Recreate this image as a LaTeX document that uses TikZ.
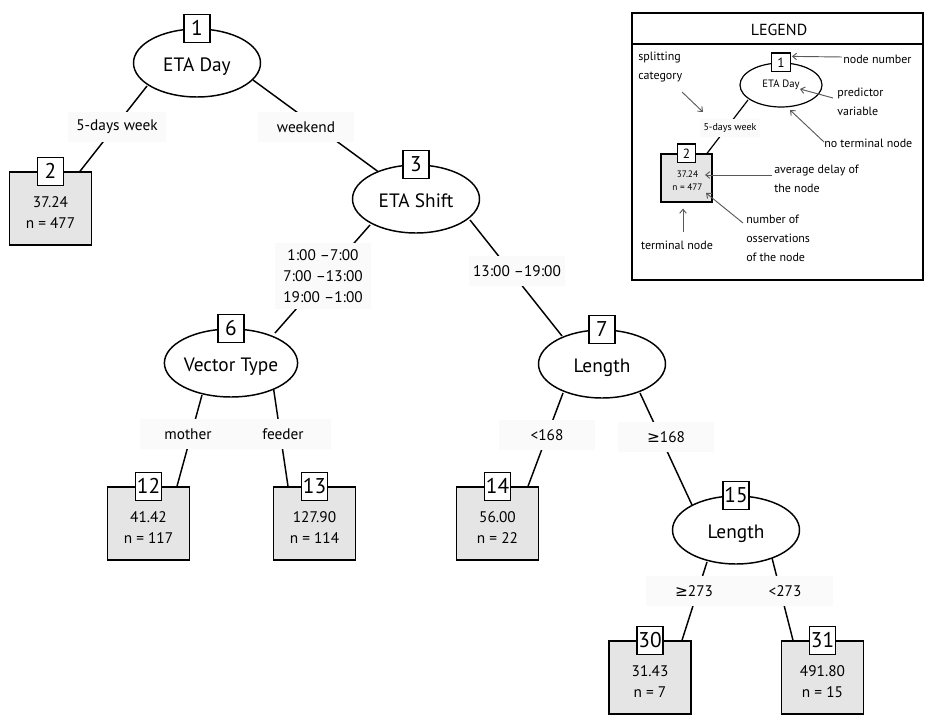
\documentclass[tikz,border=0pt]{standalone}
\usepackage{fontspec}
\setmainfont{PT Sans}
\newfontfamily\symf{DejaVu Sans}
\usetikzlibrary{shapes.geometric,calc,arrows.meta,backgrounds}
\newcommand{\gesym}{{\symf\char"2265}}
\tikzset{
  every node/.style={inner sep=0pt},
  split/.style={ellipse, draw, line width=1.1pt, fill=white, minimum width=95.25pt, minimum height=51pt, text height=13pt, text depth=0pt, font=\fontsize{14.5}{16}\selectfont},
  nbox/.style={rectangle, draw, line width=1.1pt, fill=white, minimum width=19.5pt, minimum height=21pt, font=\fontsize{16}{18}\selectfont},
  term/.style={rectangle, draw, line width=1.1pt, fill=black!10, minimum width=61.5pt, minimum height=54.75pt},
  ttext/.style={align=center, font=\fontsize{11.5}{15.75}\selectfont},
  elab/.style={fill=black!2, minimum width=72pt, minimum height=22pt, align=center, font=\fontsize{11.5}{15.75}\selectfont},
  edge/.style={line width=1.1pt},
  lsplit/.style={ellipse, draw, line width=0.9pt, fill=white, minimum width=61.5pt, minimum height=33pt, font=\fontsize{8}{9}\selectfont},
  lnbox/.style={rectangle, draw, line width=0.9pt, fill=white, minimum width=14pt, minimum height=14pt, font=\fontsize{10}{11}\selectfont},
  lterm/.style={rectangle, draw, line width=0.9pt, fill=black!10, minimum width=38.25pt, minimum height=36pt},
  ltext/.style={align=left, font=\fontsize{9}{14}\selectfont},
  ledge/.style={line width=0.9pt},
  larrow/.style={draw=black!65, line width=0.7pt, -{Straight Barb[length=3pt,width=5pt]}},
}
\begin{document}
\begin{tikzpicture}[x=0.75pt, y=-0.75pt]
\useasboundingbox (0,0) rectangle (940,720);

% ---- tree nodes ----
\node[split] (e1) at (197,63) {ETA Day};
\node[nbox] (n1) at (e1.north) {1};
\node[split] (e3) at (416,199) {ETA Shift};
\node[nbox] (n3) at (e3.north) {3};
\node[split] (e6) at (231,363) {Vector Type};
\node[nbox] (n6) at (e6.north) {6};
\node[split] (e7) at (602,364) {Length};
\node[nbox] (n7) at (e7.north) {7};
\node[split] (e15) at (736,530) {Length};
\node[nbox] (n15) at (e15.north) {15};

\node[term] (b2) at (50.5,208.5) {};
\node[nbox] (n2) at (b2.north) {2};
\node[ttext] (t2) at ($(b2.center)+(0,4)$) {37.24\\n = 477};
\node[term] (b12) at (148.5,523.5) {};
\node[nbox] (n12) at (b12.north) {12};
\node[ttext] (t12) at ($(b12.center)+(0,4)$) {41.42\\n = 117};
\node[term] (b13) at (314.5,523.5) {};
\node[nbox] (n13) at (b13.north) {13};
\node[ttext] (t13) at ($(b13.center)+(0,4)$) {127.90\\n = 114};
\node[term] (b14) at (497.5,523.5) {};
\node[nbox] (n14) at (b14.north) {14};
\node[ttext] (t14) at ($(b14.center)+(0,4)$) {56.00\\n = 22};
\node[term] (b30) at (650,677.5) {};
\node[nbox] (n30) at (b30.north) {30};
\node[ttext] (t30) at ($(b30.center)+(0,4)$) {31.43\\n = 7};
\node[term] (b31) at (822.5,677.5) {};
\node[nbox] (n31) at (b31.north) {31};
\node[ttext] (t31) at ($(b31.center)+(0,4)$) {491.80\\n = 15};

% ---- edge labels ----
\node[elab, minimum width=74pt] (l1a) at (117,127) {5-days week};
\node[elab] (l1b) at (306,127) {weekend};
\node[elab, minimum height=49.5pt] (l3a) at (323,276) {1:00 –7:00\\7:00 –13:00\\19:00 –1:00};
\node[elab] (l3b) at (517,271) {13:00 –19:00};
\node[elab] (l6a) at (188,434) {mother};
\node[elab] (l6b) at (283,434) {feeder};
\node[elab] (l7a) at (547,435) {<168};
\node[elab] (l7b) at (666,437) {\gesym168};
\node[elab] (l15a) at (694,591) {\gesym273};
\node[elab] (l15b) at (785,591) {<273};

% ---- legend ----
\node[draw, line width=1.2pt, minimum width=218.25pt, minimum height=200.25pt] (legend) at (777.5,146.5) {};
\node[font=\fontsize{12}{14}\selectfont] (legtitle) at (779,30) {LEGEND};
\node[lsplit] (le) at (781,85) {ETA Day};
\node[lnbox] (ln1) at (le.north) {1};
\node[elab, minimum width=45pt, minimum height=13pt, font=\fontsize{7.5}{9}\selectfont] (ll) at (730,128) {5-days week};
\node[lterm] (lb) at (686.5,178) {};
\node[lnbox] (ln2) at (lb.north) {2};
\node[align=center, font=\fontsize{7}{9.75}\selectfont] (lt2) at ($(lb.center)+(1,3)$) {37.24\\n = 477};

\node[ltext, anchor=north west] (tsplit) at (638,52) {splitting\\category};
\node[ltext, anchor=west] (tnn) at (843,59) {node number};
\node[ltext, anchor=north west] (tpred) at (837,88) {predictor\\variable};
\node[ltext, anchor=west] (tnoterm) at (824,143) {no terminal node};
\node[ltext, anchor=north west] (tavg) at (774,165) {average delay of\\the node};
\node[ltext, anchor=north west] (tnum) at (746,215) {number of\\osservations\\of the node};
\node[ltext] (tterm) at (677,245) {terminal node};

\draw[larrow] ($(tnn.west)+(-1,-2)$) -- ($(ln1.east)+(1,-6)$);
\draw[larrow] ($(tpred.north west)+(-4,10)$) -- ($(le)+(19,4)$);
\draw[larrow] ($(tnoterm.west)+(0,-1)$) -- ($(le)+(9,25)$);
\draw[larrow] ($(tsplit.north west)+(44,40)$) -- ($(ll)+(-27,-16)$);
\draw[larrow] ($(tavg.north west)+(-2,10)$) -- ($(lb)+(18.5,-3)$);
\draw[larrow] ($(tnum.north west)+(-3,8)$) -- ($(lb)+(19.5,15)$);
\draw[larrow] ($(tterm)+(6,-13)$) -- ($(lb.south)+(-3.5,6)$);

\draw[line width=1.2pt] ($(legend.north west)+(0,32)$) -- ($(legend.north east)+(0,32)$);

% ---- connectors ----
\begin{scope}[on background layer]
\draw[edge] ($(e1)+(-50,23)$) -- ($(b2.north)+(29.5,0)$);
\draw[edge] ($(e1)+(56,17)$) -- ($(e3)+(-36,-26)$);
\draw[edge] ($(e3)+(-46,26)$) -- ($(e6)+(44,-30)$);
\draw[edge] ($(e3)+(54,21)$) -- ($(e7)+(-40,-28)$);
\draw[edge] ($(e6)+(-29,32)$) -- ($(b12.north)+(28.5,0)$);
\draw[edge] ($(e6)+(42,22)$) -- ($(b13.north)+(-26.5,0)$);
\draw[edge] ($(e7)+(-39,29)$) -- ($(b14.north)+(30.5,0)$);
\draw[edge] ($(e7)+(38,29)$) -- ($(e15)+(-44,-25)$);
\draw[edge] ($(e15)+(-29,32)$) -- ($(b30.north)+(32,0)$);
\draw[edge] ($(e15)+(36,28)$) -- ($(b31.north)+(-29.5,0)$);
\draw[ledge] ($(le)+(-33,15)$) -- ($(lb.north)+(20.5,0)$);
\end{scope}
\end{tikzpicture}
\end{document}
